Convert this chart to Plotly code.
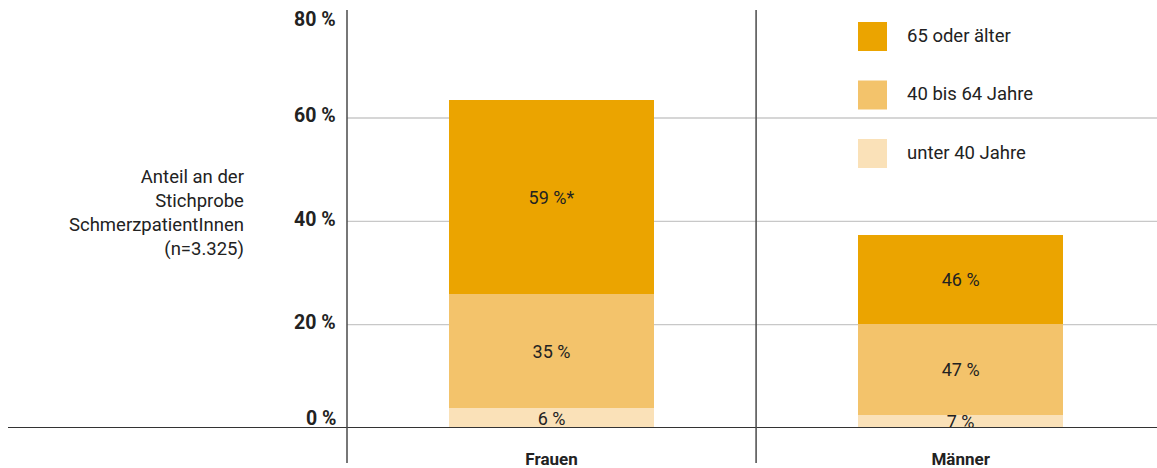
import plotly.graph_objects as go

# Patients by sex and age group (share within each sex, in %)
categories = ["Frauen", "Männer"]
group_totals = [63.4, 37.3]          # share of the whole sample, %
age_groups = ["unter 40 Jahre", "40 bis 64 Jahre", "65 oder älter"]
shares_under_40 = [6, 7]
shares_40_64 = [35, 47]
shares_65_plus = [59, 46]
label_marks_65_plus = ["*", ""]
y_ticks = [0, 20, 40, 60, 80]
grid_values = [20, 40, 60]

colors = {
    "unter 40 Jahre": "#FAE1B8",
    "40 bis 64 Jahre": "#F3C36B",
    "65 oder älter": "#EBA400",
}
shares = {
    "unter 40 Jahre": shares_under_40,
    "40 bis 64 Jahre": shares_40_64,
    "65 oder älter": shares_65_plus,
}
marks = {"65 oder älter": label_marks_65_plus}

FONT = "Roboto"
TEXT = "#222222"

W, H = 1157, 468
M_L, M_R, M_T, M_B = 347, 0, 10, 40
PW, PH = W - M_L - M_R, H - M_T - M_B


def px_x(px):
    return (px - M_L) / PW


def px_y(py):
    return (H - M_B - py) / PH


fig = go.Figure()
for g in age_groups:
    sh = shares[g]
    mk = marks.get(g, [""] * len(categories))
    fig.add_trace(go.Bar(
        x=categories,
        y=[t * s / 100 for t, s in zip(group_totals, sh)],
        name=g,
        marker=dict(color=colors[g], line=dict(width=0)),
        text=[f"{s} %{m}" for s, m in zip(sh, mk)],
        textposition="inside",
        insidetextanchor="middle",
        textangle=0,
        constraintext="none",
        cliponaxis=False,
        textfont=dict(family=FONT, size=18, color=TEXT),
        width=0.5,
        hoverinfo="skip",
        showlegend=False,
    ))

shapes = []
# horizontal grid
for v in grid_values:
    shapes.append(dict(type="line", xref="paper", yref="y", x0=0, x1=1, y0=v, y1=v,
                       line=dict(color="#C8C8C8", width=1.3), layer="below"))
# baseline reaching under the axis title
shapes.append(dict(type="line", xref="paper", yref="y", x0=px_x(8), x1=1, y0=0, y1=0,
                   line=dict(color="#333333", width=2), layer="above"))
# left spine and category separator extending below the baseline
shapes.append(dict(type="line", xref="paper", yref="paper", x0=0, x1=0,
                   y0=px_y(463), y1=1, line=dict(color="#4A4A4A", width=1.5)))
shapes.append(dict(type="line", xref="x", yref="paper", x0=0.5, x1=0.5,
                   y0=px_y(463), y1=1, line=dict(color="#4A4A4A", width=1.5)))

annotations = []
# y tick labels
tick_shift = {0: 10, 80: -5}
for v in y_ticks:
    annotations.append(dict(
        xref="paper", yref="y", x=0, y=v, xshift=-9, yshift=tick_shift.get(v, 2),
        xanchor="right", yanchor="middle", showarrow=False,
        text=f"{v} %", font=dict(family=FONT, size=19.5, color=TEXT, weight="bold"),
    ))

# axis title
annotations.append(dict(
    xref="paper", yref="paper", x=px_x(246), y=px_y(213),
    xanchor="right", yanchor="middle", align="right", showarrow=False,
    text="Anteil an der<br>Stichprobe<br>SchmerzpatientInnen<br>(n=3.325)",
    font=dict(family=FONT, size=18.5, color=TEXT),
))

# legend: large square swatches with labels
for i, g in enumerate(reversed(age_groups)):
    top = 22 + i * 58.5
    shapes.append(dict(type="rect", xref="paper", yref="paper",
                       x0=px_x(858), x1=px_x(887), y0=px_y(top + 29), y1=px_y(top),
                       fillcolor=colors[g], line=dict(width=0)))
    annotations.append(dict(
        xref="paper", yref="paper", x=px_x(905), y=px_y(top + 14),
        xanchor="left", yanchor="middle", showarrow=False, text=g,
        font=dict(family=FONT, size=18.5, color=TEXT),
    ))

fig.update_layout(
    width=W, height=H,
    margin=dict(l=M_L, r=M_R, t=M_T, b=M_B, pad=0, autoexpand=False),
    barmode="stack",
    plot_bgcolor="white", paper_bgcolor="white",
    shapes=shapes, annotations=annotations,
    showlegend=False,
    xaxis=dict(range=[-0.5, 1.48], showgrid=False, zeroline=False, showline=False,
               automargin=False, ticks="", ticklabelstandoff=19,
               tickfont=dict(family=FONT, size=17, color=TEXT, weight="bold")),
    yaxis=dict(range=[0, PH / 5.167], showgrid=False, zeroline=False, automargin=False,
               showline=False, showticklabels=False, ticks=""),
)

fig.write_html("out.html")
